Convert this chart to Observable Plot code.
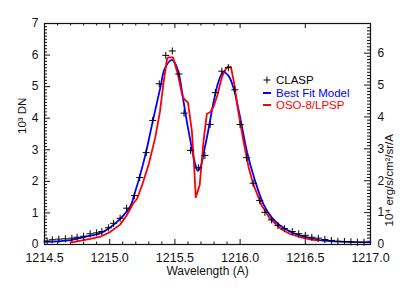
<!DOCTYPE html>
<html><head><meta charset="utf-8">
<script src="https://cdn.jsdelivr.net/npm/d3@7"></script>
<script src="https://cdn.jsdelivr.net/npm/@observablehq/plot@0.6"></script>
<style>
body{margin:0;background:#fff;}
#wrap{position:relative;width:415px;height:291px;}
#legend{position:absolute;left:262px;top:74px;font-family:"Liberation Sans",Arial,sans-serif;font-size:11.5px;}
#legend .row{display:flex;align-items:center;height:12.5px;}
#legend svg{margin-right:4px;}
</style></head><body><div id="wrap"><div id="legend"></div></div>
<script>
const claspWave = [1214.52,1214.56,1214.61,1214.66,1214.71,1214.75,1214.80,1214.85,1214.90,1214.94,
  1214.99,1215.03,1215.08,1215.13,1215.19,1215.23,1215.28,1215.33,1215.38,1215.43,
  1215.48,1215.53,1215.57,1215.62,1215.68,1215.73,1215.77,1215.81,1215.86,1215.91,
  1215.96,1216.00,1216.05,1216.10,1216.15,1216.19,1216.24,1216.29,1216.34,1216.40,
  1216.45,1216.50,1216.55,1216.60,1216.65,1216.70,1216.75,1216.80,1216.85,1216.90,1216.95];
const claspValue = [0.11,0.15,0.17,0.18,0.20,0.23,0.26,0.34,0.37,0.41,
  0.53,0.67,0.83,1.15,1.55,2.12,2.91,3.93,5.09,5.99,
  6.13,5.40,4.16,2.98,2.43,2.82,3.80,4.81,5.49,5.60,
  4.90,3.80,2.75,1.94,1.39,1.02,0.78,0.60,0.50,0.41,
  0.34,0.29,0.23,0.20,0.16,0.13,0.10,0.095,0.085,0.07,0.07];

const fitWave = [1214.50,1214.70,1214.81,1214.93,1215.00,1215.08,1215.16,1215.19,1215.23,1215.28,
  1215.33,1215.39,1215.42,1215.475,1215.50,1215.53,1215.565,1215.60,1215.63,1215.655,
  1215.675,1215.70,1215.725,1215.756,1215.794,1215.833,1215.871,1215.91,1215.948,1216.00,
  1216.055,1216.114,1216.178,1216.242,1216.306,1216.37,1216.434,1216.51,1216.61,1216.77,1217.00];
const fitValue = [0.08,0.14,0.24,0.36,0.53,0.81,1.22,1.60,2.15,2.95,
  3.90,5.00,5.55,5.85,5.75,5.41,4.56,3.70,3.05,2.56,
  2.34,2.50,2.98,3.61,4.46,5.14,5.46,5.35,4.98,4.03,
  2.90,2.03,1.29,0.86,0.60,0.44,0.32,0.23,0.14,0.09,0.07];

const osoWave = [1214.70,1214.85,1214.93,1215.00,1215.08,1215.13,1215.18,1215.21,1215.25,1215.30,
  1215.35,1215.385,1215.415,1215.44,1215.45,1215.485,1215.50,1215.525,1215.555,1215.57,
  1215.60,1215.63,1215.645,1215.66,1215.69,1215.72,1215.745,1215.77,1215.795,1215.825,
  1215.86,1215.89,1215.91,1215.93,1215.955,1215.985,1216.025,1216.065,1216.10,1216.165,
  1216.23,1216.31,1216.38,1216.46,1216.535,1216.60];
const osoValue = [0.06,0.18,0.25,0.39,0.63,0.92,1.30,1.45,1.90,2.55,
  3.40,4.20,5.19,5.88,5.93,5.93,5.72,5.35,4.75,4.61,
  4.50,3.60,2.66,1.50,1.88,3.29,4.14,4.19,4.35,4.72,
  5.30,5.56,5.64,5.62,5.09,4.24,3.29,2.45,1.92,1.24,
  0.81,0.50,0.34,0.23,0.16,0.12];

const xTickLabels = [1214.5,1215.0,1215.5,1216.0,1216.5,1217.0];
const yLeftTicks = [0,1,2,3,4,5,6,7];
const yRightTicks = [0,1,2,3,4,5,6];
const rightToLeft = 1.01;   // right-axis unit expressed in left-axis units
const legendLabels = ["CLASP","Best Fit Model","OSO-8/LPSP"];
const legendColors = ["#000000","#0000ff","#ff0000"];

const clasp = claspWave.map((w,i)=>({w, v: claspValue[i]}));
const fit = fitWave.map((w,i)=>({w, v: fitValue[i]}));
const oso = osoWave.map((w,i)=>({w, v: osoValue[i]}));

const W = 415, H = 291, mL = 44, mR = 45, mT = 23, mB = 47;
const pw = W - mL - mR, ph = H - mT - mB;
const xMinor = d3.range(14, 30).map(i => i/10 + 1213.1).map(d => +d.toFixed(1)).filter(d => d > 1214.5 && d < 1217.0 && !xTickLabels.includes(d));
const yMinor = d3.range(1, 70).map(i => i/10).filter(d => !yLeftTicks.includes(d));
const yRMinor = d3.range(1, 69).map(i => i/10).filter(d => !yRightTicks.includes(d)).map(d => d*rightToLeft);
const yRMajor = yRightTicks.map(d => d*rightToLeft);
const xMajorInner = xTickLabels.filter(d => d > 1214.5 && d < 1217.0);

const font = "Liberation Sans, Arial, sans-serif";
const chart = Plot.plot({
  width: W, height: H,
  marginLeft: mL, marginRight: mR, marginTop: mT, marginBottom: mB,
  style: {fontFamily: font, background: "white"},
  x: {domain: [1214.5, 1217.0]},
  y: {domain: [0, 7]},
  marks: [
    Plot.axisX(xTickLabels, {anchor: "bottom", tickSize: 0, tickPadding: 9, tickFormat: d3.format(".1f"), label: null, fontSize: 12.5, fill: "#111"}),
    Plot.axisY(yLeftTicks, {anchor: "left", tickSize: 0, tickPadding: 6, tickFormat: d3.format("d"), label: null, fontSize: 12, fill: "#111"}),
    Plot.axisY(yRMajor, {anchor: "right", tickSize: 0, tickPadding: 7, tickFormat: d => Math.round(d/rightToLeft), label: null, fontSize: 12, fill: "#111"}),
    // inward ticks: bottom
    Plot.tickX(xMajorInner, {x: d=>d, insetTop: ph - 5, stroke: "#111"}),
    Plot.tickX(xMinor, {x: d=>d, insetTop: ph - 2.5, stroke: "#111"}),
    // top
    Plot.tickX(xMajorInner, {x: d=>d, insetBottom: ph - 5, stroke: "#111"}),
    Plot.tickX(xMinor, {x: d=>d, insetBottom: ph - 2.5, stroke: "#111"}),
    // left
    Plot.tickY(yLeftTicks.filter(d=>d>0&&d<7), {y: d=>d, insetRight: pw - 6, stroke: "#111"}),
    Plot.tickY(yMinor, {y: d=>d, insetRight: pw - 3, stroke: "#111"}),
    // right
    Plot.tickY(yRMajor.filter(d=>d>0), {y: d=>d, insetLeft: pw - 6, stroke: "#111"}),
    Plot.tickY(yRMinor, {y: d=>d, insetLeft: pw - 3, stroke: "#111"}),
    Plot.line(fit, {x: "w", y: "v", stroke: "#0000ff", strokeWidth: 1.8, curve: "catmull-rom"}),
    Plot.line(oso, {x: "w", y: "v", stroke: "#ff0000", strokeWidth: 1.8}),
    Plot.dot(clasp, {x: "w", y: "v", symbol: "plus", r: 2.4, stroke: "#000", strokeWidth: 1}),
    Plot.frame({stroke: "#111", strokeWidth: 1.2}),
    Plot.text(["Wavelength (A)"], {frameAnchor: "bottom", dy: 30, fontSize: 12, fill: "#111"}),
    Plot.text(["10³ DN"], {frameAnchor: "left", dx: -22, rotate: -90, fontSize: 11.5, fill: "#111"}),
    Plot.text(["10⁴ erg/s/cm²/sr/A"], {frameAnchor: "right", dx: 19, rotate: -90, fontSize: 11.5, fill: "#111"})
  ]
});
document.getElementById("wrap").prepend(chart);

const legend = document.getElementById("legend");
legendLabels.forEach((lab, i) => {
  const row = document.createElement("div");
  row.className = "row";
  const sym = i === 0
    ? `<svg width="10" height="10"><path d="M1.5,5H8.5M5,1.5V8.5" stroke="#000" stroke-width="1"/></svg>`
    : `<svg width="10" height="10"><path d="M1,5H9" stroke="${legendColors[i]}" stroke-width="2"/></svg>`;
  row.innerHTML = sym + `<span style="color:${legendColors[i]}">${lab}</span>`;
  legend.appendChild(row);
});
</script>
</body></html>
